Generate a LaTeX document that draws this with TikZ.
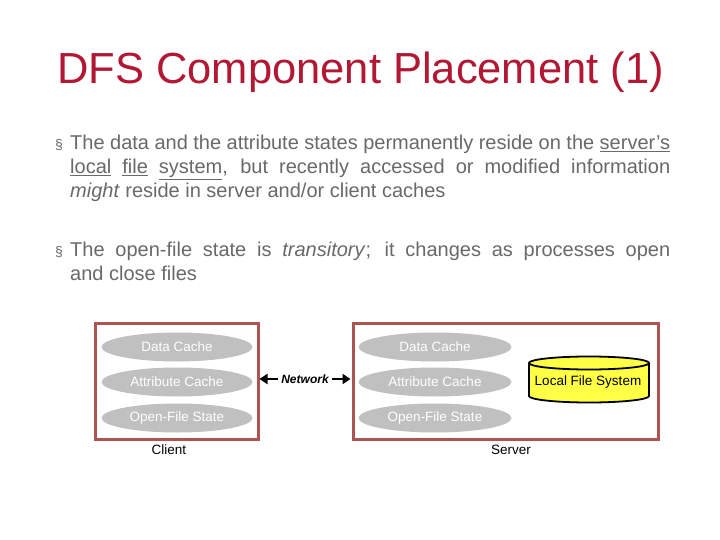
\documentclass[tikz,border=0pt]{standalone}
\usepackage{fontspec}
\setmainfont{Liberation Sans}
\usetikzlibrary{arrows.meta}
\definecolor{titlered}{RGB}{178,24,52}
\definecolor{bodygray}{RGB}{105,105,105}
\definecolor{boxred}{RGB}{172,84,84}
\definecolor{ellgray}{RGB}{192,192,192}
\definecolor{lfsyellow}{RGB}{255,255,70}
\tikzset{
  bodyline/.style={anchor=base west, inner sep=0pt, text=bodygray, font=\fontsize{20}{24}\selectfont},
  bulletmark/.style={anchor=base west, inner sep=0pt, text=bodygray, font=\fontsize{14}{16}\selectfont},
  hostbox/.style={draw=boxred, line width=3pt, fill=white},
  cache/.style={ellipse, fill=ellgray, text=white, minimum width=151pt, minimum height=29pt, inner sep=0pt, font=\fontsize{13.5}{16}\selectfont},
  hostlabel/.style={inner sep=0pt, font=\fontsize{13.5}{16}\selectfont},
  netarrow/.style={line width=2.2pt, -{Triangle[length=8pt,width=10pt]}},
}
\usetikzlibrary{shapes.geometric}
\begin{document}
\begin{tikzpicture}[x=1pt,y=-1pt]
\useasboundingbox[fill=white] (0,0) rectangle (720,540);
% title
\node[anchor=base west, inner sep=0pt, text=titlered, font=\fontsize{43.5}{50}\selectfont] (title) at (57,84) {DFS Component Placement (1)};
% bullets
\node[bulletmark] (b1) at (55,150) {§};
\node[bodyline] (l1) at (70,150) {\makebox[600pt][s]{The data and the attribute states permanently reside on the \underline{server’s}}};
\node[bodyline] (l2) at (70,174) {\makebox[600pt][s]{\underline{local} \underline{file} \underline{system}, but recently accessed or modified information}};
\node[bodyline] (l3) at (70,198) {\textit{might} reside in server and/or client caches};
\node[bulletmark] (b2) at (55,256) {§};
\node[bodyline] (l4) at (70,256) {\makebox[600pt][s]{The open-file state is \textit{transitory}; it changes as processes open}};
\node[bodyline] (l5) at (70,280) {and close files};
% boxes
\node[hostbox, minimum width=163pt, minimum height=116pt, inner sep=0pt] (clientbox) at (176.5,381) {};
\node[hostbox, minimum width=305pt, minimum height=116pt, inner sep=0pt] (serverbox) at (505.5,381) {};
% client caches
\node[cache] (cdc) at (177,347) {Data Cache};
\node[cache] (cac) at (177,382) {Attribute Cache};
\node[cache] (cof) at (177,418) {Open-File State};
% server caches
\node[cache, minimum width=153pt] (sdc) at (435,347) {Data Cache};
\node[cache, minimum width=153pt] (sac) at (435,382) {Attribute Cache};
\node[cache, minimum width=153pt] (sof) at (435,418) {Open-File State};
% local file system cylinder
\fill[lfsyellow] (529,363) -- (529,396) arc (180:0:60 and 6.5) -- (649,363) arc (0:-180:60 and 6.5) -- cycle;
\draw[line width=1.8pt] (529,363) -- (529,396) arc (180:0:60 and 6.5) -- (649,363);
\draw[line width=1.8pt] (589,363) ellipse (60 and 6.5);
\node[inner sep=0pt, font=\fontsize{13.5}{16}\selectfont] (lfs) at (588,382) {Local File System};
% labels
\node[hostlabel] (client) at (169,450) {Client};
\node[hostlabel] (server) at (511,450) {Server};
% network
\node[inner sep=0pt, font=\fontsize{12}{14}\selectfont\bfseries\itshape] (net) at (305,379) {Network};
\draw[netarrow] ([xshift=-3pt]net.west) -- (clientbox.east |- net.west);
\draw[netarrow] ([xshift=3pt]net.east) -- ([xshift=-1pt]serverbox.west |- net.east);
\end{tikzpicture}
\end{document}
